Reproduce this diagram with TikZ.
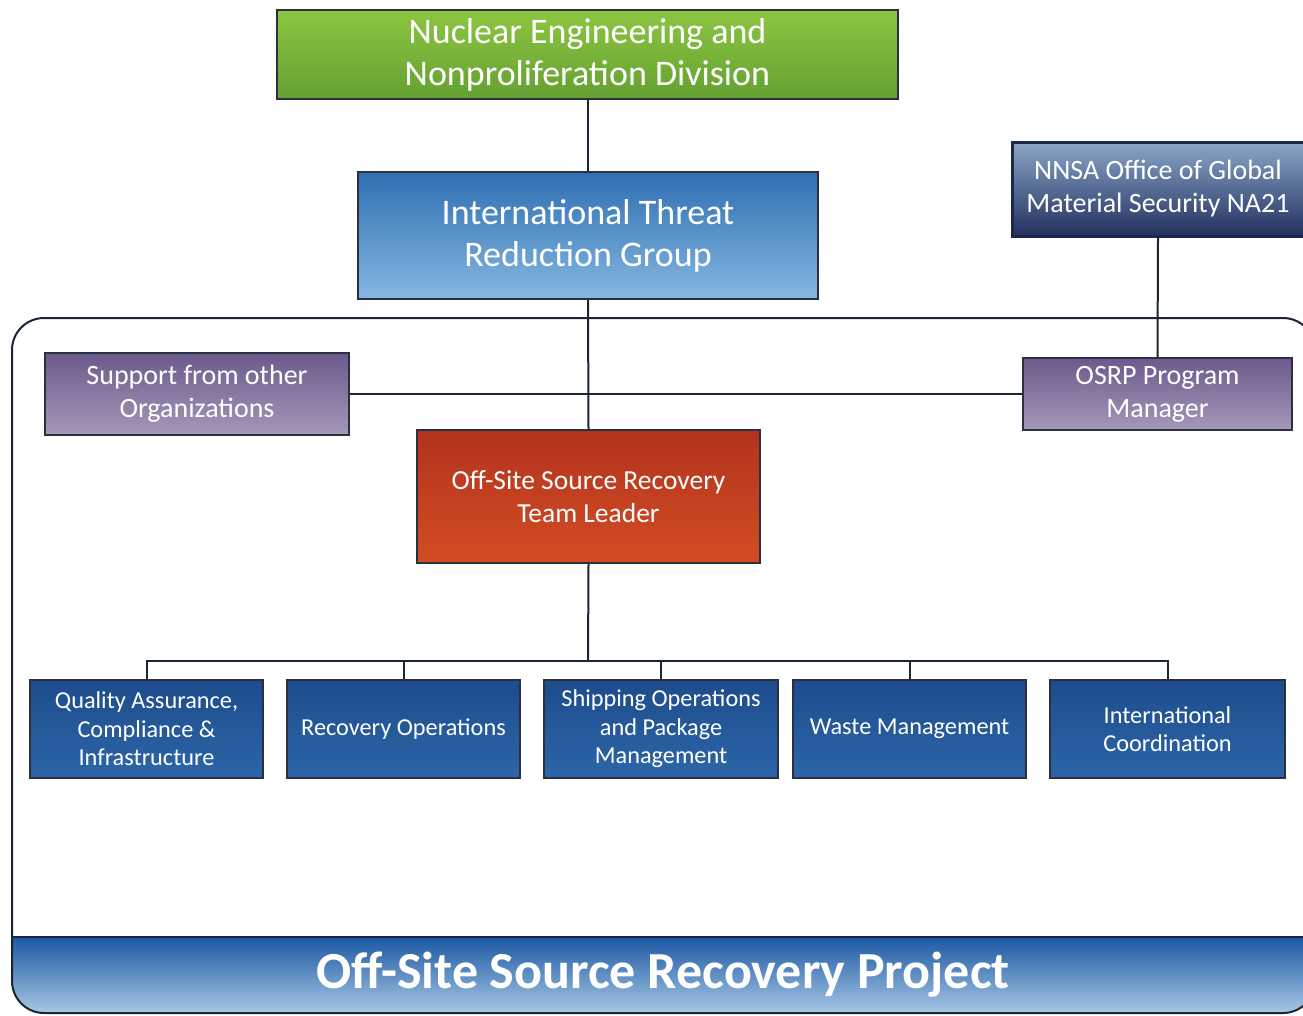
\documentclass[tikz,border=0pt]{standalone}
\usepackage{fontspec}
\setmainfont{Carlito}
\definecolor{linec}{HTML}{1A2535}
\definecolor{bordc}{HTML}{2A3040}
\definecolor{greenT}{HTML}{8DC641}
\definecolor{greenB}{HTML}{64A032}
\definecolor{blueT}{HTML}{2E6FB2}
\definecolor{blueB}{HTML}{86B8E0}
\definecolor{navyT}{HTML}{8AA6C8}
\definecolor{navyB}{HTML}{22305E}
\definecolor{navyD}{HTML}{1C2850}
\definecolor{purpT}{HTML}{6B5A8C}
\definecolor{purpB}{HTML}{A598B8}
\definecolor{redT}{HTML}{B3321C}
\definecolor{redB}{HTML}{D24D25}
\definecolor{dblT}{HTML}{1E4C8C}
\definecolor{dblB}{HTML}{2C66A8}
\definecolor{bandT}{HTML}{1C58A2}
\definecolor{bandB}{HTML}{B4D2EC}
\tikzset{
  orgbox/.style={draw=bordc, line width=2pt, text=white, align=center, inner sep=0pt},
  big/.style={font=\fontsize{36}{42}\selectfont},
  mid/.style={font=\fontsize{28}{33}\selectfont},
  lead/.style={font=\fontsize{27.5}{33}\selectfont},
  small/.style={font=\fontsize{24.3}{28.5}\selectfont},
  conn/.style={draw=linec, line width=2pt},
}
\begin{document}
\begin{tikzpicture}[x=1pt,y=-1pt]
\useasboundingbox (0,0) rectangle (1303,1015);
\begin{scope}
\clip (0,0) rectangle (1303,1015);
% frame and band
\begin{scope}
\clip[rounded corners=32] (12,318) rectangle (1315,1013);
\shade[top color=bandT, bottom color=bandB] (0,937) rectangle (1320,1020);
\draw[linec, line width=1.5pt] (0,937) -- (1320,937);
\end{scope}
\draw[linec, line width=2pt, rounded corners=32] (12,318) rectangle (1315,1013);
\node[text=white, font=\bfseries\fontsize{52}{60}\selectfont] (proj) at (663,975) {Off-Site Source Recovery Project};

% top boxes
\node[orgbox, big, top color=greenT, bottom color=greenB, minimum width=621, minimum height=89] (nen) at (587.5,54.5) {Nuclear Engineering and\\Nonproliferation Division};
\node[orgbox, big, top color=blueT, bottom color=blueB, minimum width=460, minimum height=127] (itrg) at (588,235.5) {International Threat\\Reduction Group};
\node[orgbox, mid, draw=navyD, line width=3pt, top color=navyT, bottom color=navyB, minimum width=292, minimum height=94] (nnsa) at (1158,189) {NNSA Office of Global\\Material Security NA21};

\node[orgbox, mid, top color=purpT, bottom color=purpB, minimum width=304, minimum height=82] (supp) at (197,394) {Support from other\\Organizations};
\node[orgbox, mid, top color=purpT, bottom color=purpB, minimum width=269, minimum height=72] (osrp) at (1157.5,394) {OSRP Program\\Manager};
\node[orgbox, lead, top color=redT, bottom color=redB, minimum width=343, minimum height=133] (lead) at (588.5,496.5) {Off-Site Source Recovery\\Team Leader};

% bottom row
\node[orgbox, small, top color=dblT, bottom color=dblB, minimum width=233, minimum height=98] (qa) at (146.5,729) {Quality Assurance,\\Compliance \&\\Infrastructure};
\node[orgbox, small, top color=dblT, bottom color=dblB, minimum width=233, minimum height=98] (rec) at (403.5,729) {Recovery Operations};
\node[orgbox, small, top color=dblT, bottom color=dblB, minimum width=234, minimum height=98] (ship) at (661,729) {Shipping Operations\\and Package\\Management};
\node[orgbox, small, top color=dblT, bottom color=dblB, minimum width=233, minimum height=98] (waste) at (909.5,729) {Waste Management};
\node[orgbox, small, top color=dblT, bottom color=dblB, minimum width=235, minimum height=98] (intl) at (1167.5,729) {International\\Coordination};

% connectors
\coordinate (bus) at (588,661);
\draw[conn] (nen.south) -- (itrg.south |- nen.south) -- (itrg.north);
\draw[conn] (itrg.south) -- (lead.north);
\draw[conn] (supp.east) -- (osrp.west);
\draw[conn] (nnsa.south) -- (osrp.north);
\draw[conn] (lead.south) -- (bus);
\draw[conn] (qa.north) -- (qa.north |- bus) -- (intl.north |- bus) -- (intl.north);
\draw[conn] (rec.north) -- (rec.north |- bus);
\draw[conn] (ship.north) -- (ship.north |- bus);
\draw[conn] (waste.north) -- (waste.north |- bus);
\end{scope}
\end{tikzpicture}
\end{document}
